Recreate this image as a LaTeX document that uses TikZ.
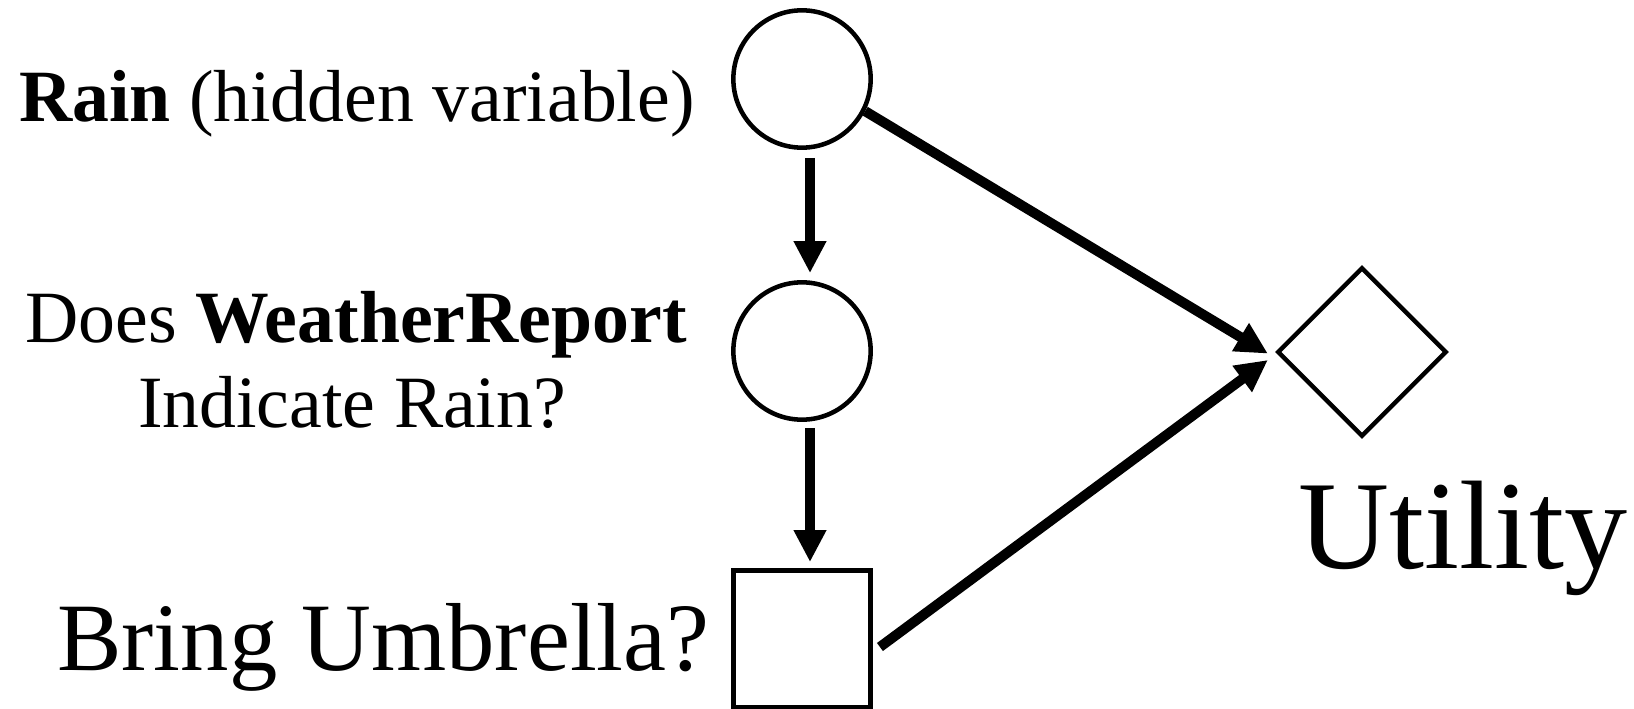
\documentclass[tikz,border=0pt]{standalone}
\usepackage{fontspec}
\setmainfont{Liberation Serif}
\usetikzlibrary{arrows.meta,shapes.geometric}

\begin{document}
\begin{tikzpicture}[x=0.75pt,y=-0.75pt,
  chance/.style={circle,draw,line width=3.4pt,minimum size=103pt,inner sep=0pt},
  decision/.style={rectangle,draw,line width=3.4pt,minimum size=103pt,inner sep=0pt},
  utility/.style={diamond,draw,line width=3.4pt,minimum width=127pt,minimum height=127pt,inner sep=0pt},
  lbl/.style={inner sep=0pt,font=\fontsize{55.3}{64}\selectfont},
  declbl/.style={inner sep=0pt,font=\fontsize{72.5}{80}\selectfont},
  utillbl/.style={inner sep=0pt,font=\fontsize{94.5}{100}\selectfont},
  arr/.style={line width=7.5pt,-{Triangle[length=24pt,width=23pt]}}]
  \useasboundingbox (0,0) rectangle (1634,709);

  % nodes of the influence diagram
  \node[chance]   (rain)   at (802,79)   {};
  \node[chance]   (report) at (802,351)  {};
  \node[decision] (dec)    at (802,639)  {};
  \node[utility]  (util)   at (1362,352) {};

  % labels
  \node[lbl,anchor=base east] (rainlbl) at (695,122) {\textbf{Rain} (hidden variable)};
  \node[lbl,anchor=base] (replbla) at (356,342) {Does \textbf{WeatherReport}};
  \node[lbl,anchor=base] (replblb) at (352,427) {Indicate Rain?};
  \node[declbl,anchor=base west] (declbl) at (57,670) {Bring Umbrella?};
  \node[utillbl,anchor=base west] (utillbl) at (1298,568) {Utility};

  % connectors
  \draw[arr,shorten <=6pt,shorten >=5.2pt] ([xshift=6pt]rain.south) -- ([xshift=6pt]report.north);
  \draw[arr,shorten <=4.5pt,shorten >=4.5pt] ([xshift=6pt]report.south) -- ([xshift=6pt]dec.north);
  \draw[arr] (rain.-27) -- ([xshift=-5.4pt,yshift=-1.2pt]util.west);
  \draw[arr] ([xshift=5.25pt,yshift=-6pt]dec.east) -- ([xshift=-5.4pt,yshift=-6pt]util.west);
\end{tikzpicture}
\end{document}
